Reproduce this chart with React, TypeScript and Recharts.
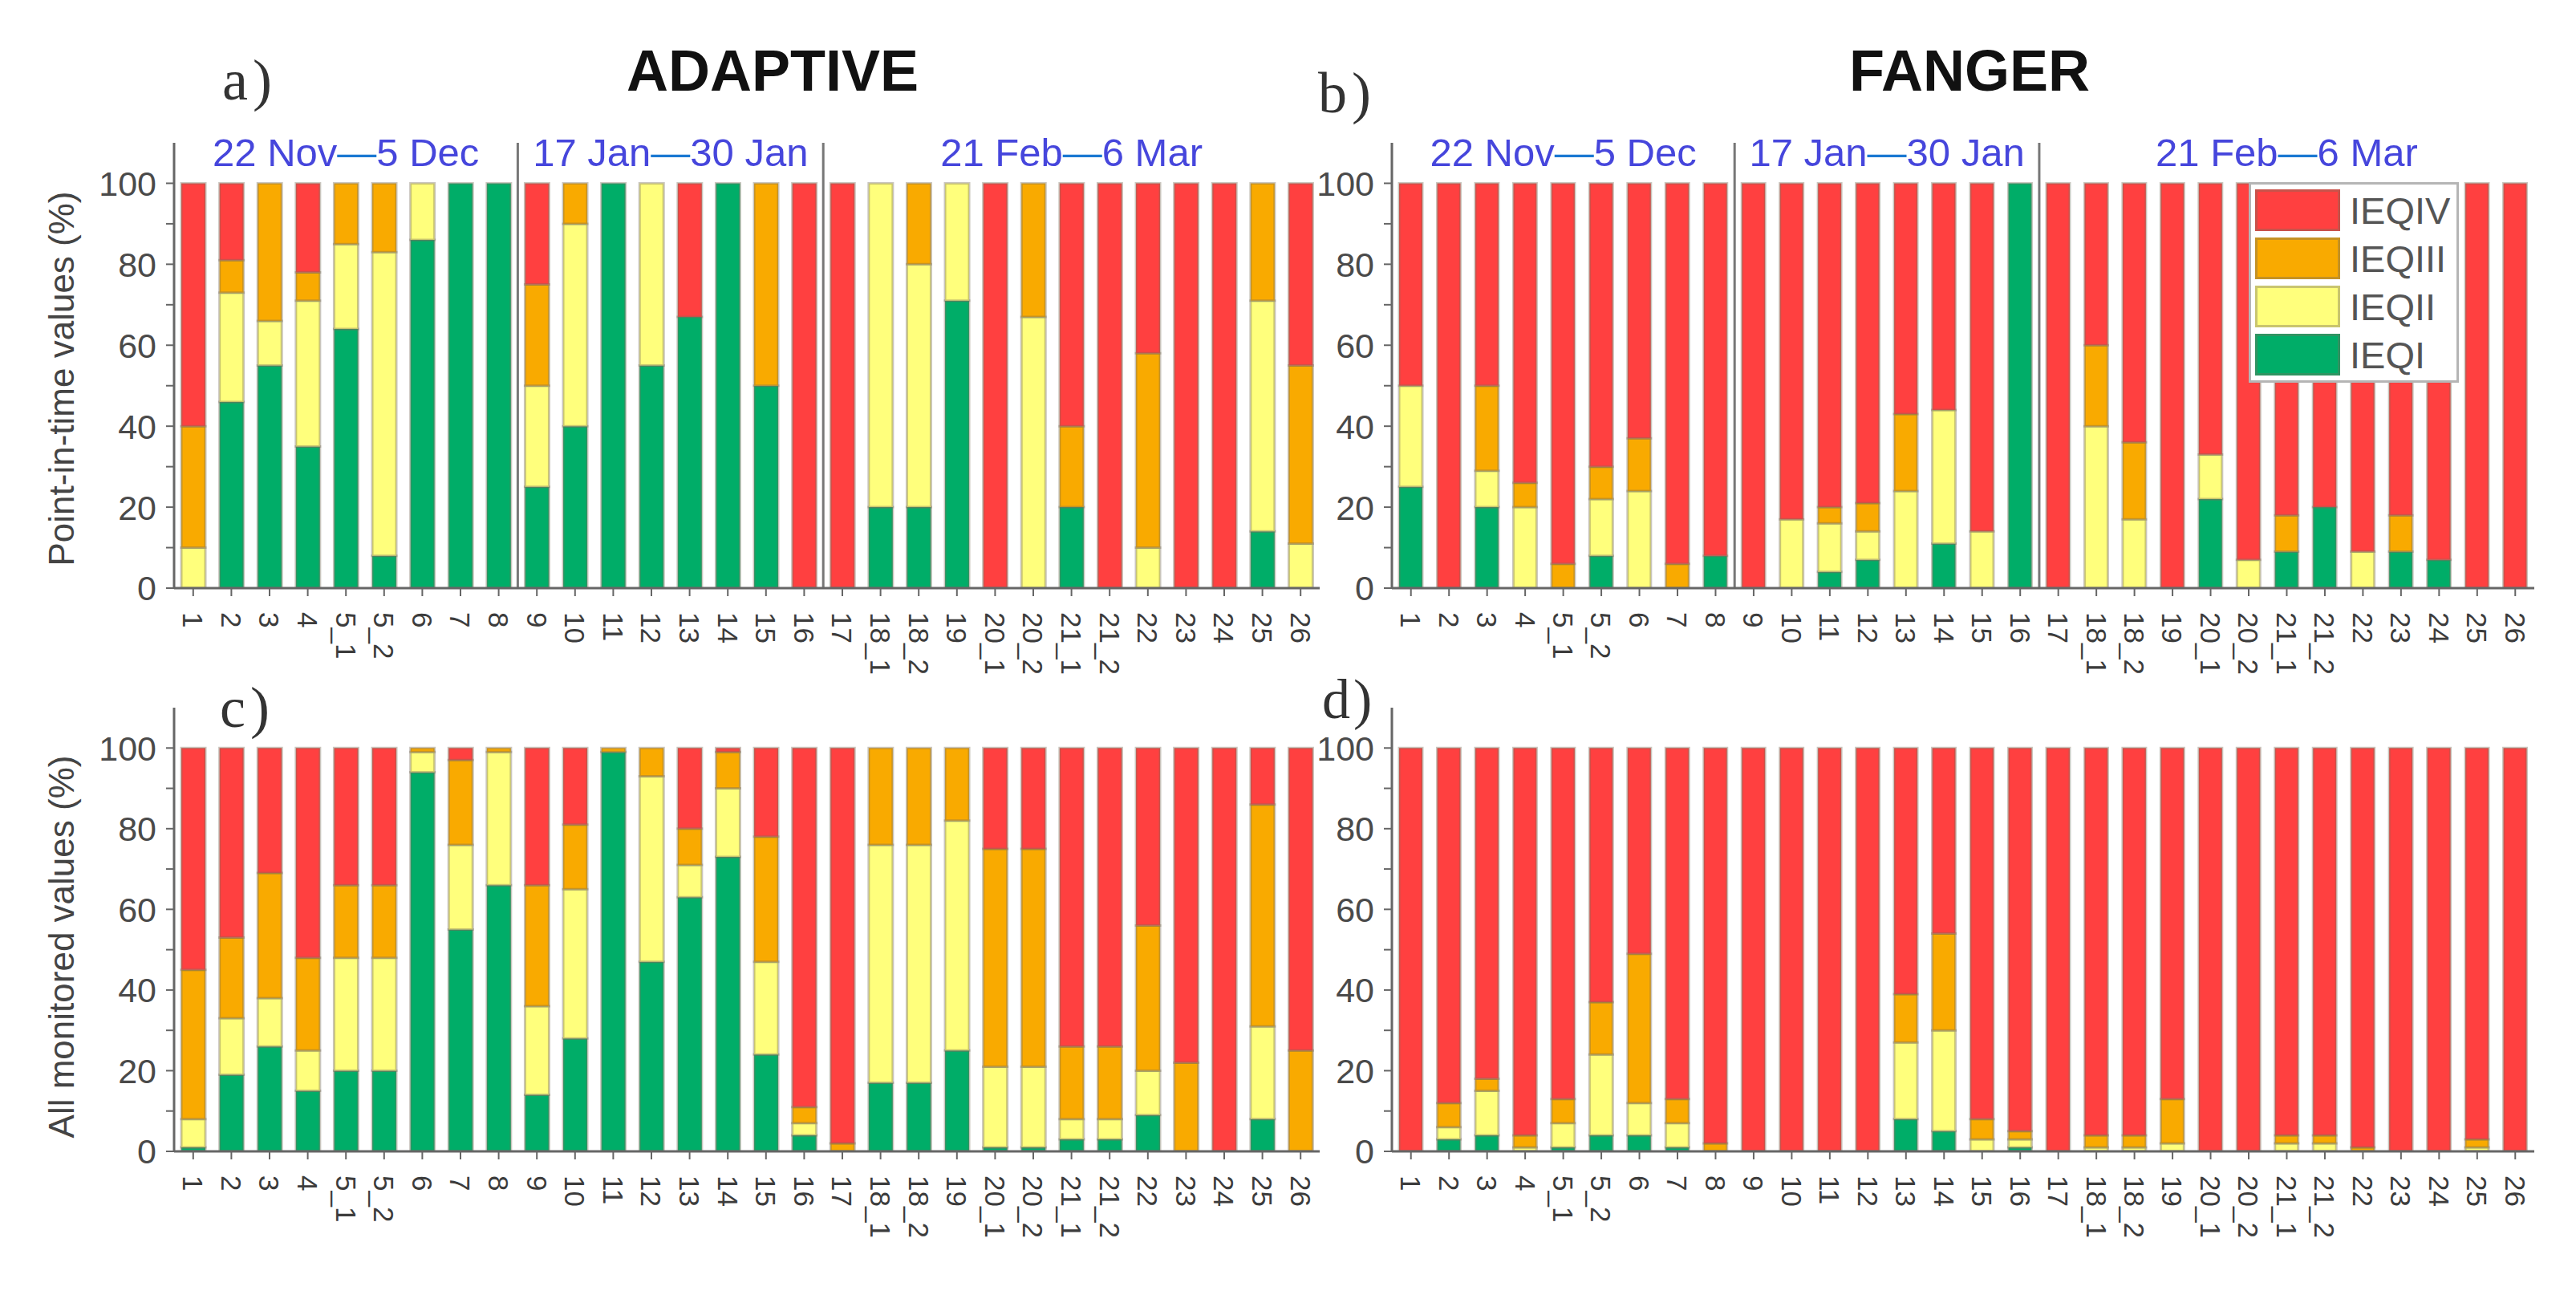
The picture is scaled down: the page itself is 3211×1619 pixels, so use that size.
import React from 'react';
import { BarChart, Bar, XAxis, YAxis, ReferenceLine, ReferenceArea } from 'recharts';

const rooms = ['1', '2', '3', '4', '5_1', '5_2', '6', '7', '8', '9', '10', '11', '12', '13', '14', '15', '16', '17', '18_1', '18_2', '19', '20_1', '20_2', '21_1', '21_2', '22', '23', '24', '25', '26'];

// a) ADAPTIVE - point-in-time values (%)
const adaptPointI = [0, 46, 55, 35, 64, 8, 86, 100, 100, 25, 40, 100, 55, 67, 100, 50, 0, 0, 20, 20, 71, 0, 0, 20, 0, 0, 0, 0, 14, 0];
const adaptPointII = [10, 27, 11, 36, 21, 75, 14, 0, 0, 25, 50, 0, 45, 0, 0, 0, 0, 0, 80, 60, 29, 0, 67, 0, 0, 10, 0, 0, 57, 11];
const adaptPointIII = [30, 8, 34, 7, 15, 17, 0, 0, 0, 25, 10, 0, 0, 0, 0, 50, 0, 0, 0, 20, 0, 0, 33, 20, 0, 48, 0, 0, 29, 44];
const adaptPointIV = [60, 19, 0, 22, 0, 0, 0, 0, 0, 25, 0, 0, 0, 33, 0, 0, 100, 100, 0, 0, 0, 100, 0, 60, 100, 42, 100, 100, 0, 45];

// b) FANGER - point-in-time values (%)
const fangerPointI = [25, 0, 20, 0, 0, 8, 0, 0, 8, 0, 0, 4, 7, 0, 11, 0, 100, 0, 0, 0, 0, 22, 0, 9, 20, 0, 9, 7, 0, 0];
const fangerPointII = [25, 0, 9, 20, 0, 14, 24, 0, 0, 0, 17, 12, 7, 24, 33, 14, 0, 0, 40, 17, 0, 11, 7, 0, 0, 9, 0, 0, 0, 0];
const fangerPointIII = [0, 0, 21, 6, 6, 8, 13, 6, 0, 0, 0, 4, 7, 19, 0, 0, 0, 0, 20, 19, 0, 0, 0, 9, 0, 0, 9, 0, 0, 0];
const fangerPointIV = [50, 100, 50, 74, 94, 70, 63, 94, 92, 100, 83, 80, 79, 57, 56, 86, 0, 100, 40, 64, 100, 67, 93, 82, 80, 91, 82, 93, 100, 100];

// c) ADAPTIVE - all monitored values (%)
const adaptAllI = [1, 19, 26, 15, 20, 20, 94, 55, 66, 14, 28, 99, 47, 63, 73, 24, 4, 0, 17, 17, 25, 1, 1, 3, 3, 9, 0, 0, 8, 0];
const adaptAllII = [7, 14, 12, 10, 28, 28, 5, 21, 33, 22, 37, 0, 46, 8, 17, 23, 3, 0, 59, 59, 57, 20, 20, 5, 5, 11, 0, 0, 23, 0];
const adaptAllIII = [37, 20, 31, 23, 18, 18, 1, 21, 1, 30, 16, 1, 7, 9, 9, 31, 4, 2, 24, 24, 18, 54, 54, 18, 18, 36, 22, 0, 55, 25];
const adaptAllIV = [55, 47, 31, 52, 34, 34, 0, 3, 0, 34, 19, 0, 0, 20, 1, 22, 89, 98, 0, 0, 0, 25, 25, 74, 74, 44, 78, 100, 14, 75];

// d) FANGER - all monitored values (%)
const fangerAllI = [0, 3, 4, 0, 1, 4, 4, 1, 0, 0, 0, 0, 0, 8, 5, 0, 1, 0, 0, 0, 0, 0, 0, 0, 0, 0, 0, 0, 0, 0];
const fangerAllII = [0, 3, 11, 1, 6, 20, 8, 6, 0, 0, 0, 0, 0, 19, 25, 3, 2, 0, 1, 1, 2, 0, 0, 2, 2, 0, 0, 0, 1, 0];
const fangerAllIII = [0, 6, 3, 3, 6, 13, 37, 6, 2, 0, 0, 0, 0, 12, 24, 5, 2, 0, 3, 3, 11, 0, 0, 2, 2, 1, 0, 0, 2, 0];
const fangerAllIV = [100, 88, 82, 96, 87, 63, 51, 87, 98, 100, 100, 100, 100, 61, 46, 92, 95, 100, 96, 96, 87, 100, 100, 96, 96, 99, 100, 100, 97, 100];

const periods = [
  { from: '1', to: '8', start: '22 Nov', end: '5 Dec' },
  { from: '9', to: '16', start: '17 Jan', end: '30 Jan' },
  { from: '17', to: '26', start: '21 Feb', end: '6 Mar' },
];
const periodBreaks = ['8', '16'];
const yTicks = [0, 10, 20, 30, 40, 50, 60, 70, 80, 90, 100];

const classes = [
  { key: 'IV', name: 'IEQIV', color: '#ff4040' },
  { key: 'III', name: 'IEQIII', color: '#f9aa00' },
  { key: 'II', name: 'IEQII', color: '#ffff7c' },
  { key: 'I', name: 'IEQI', color: '#00ad68' },
];

const SANS = '"Liberation Sans", Arial, sans-serif';
const SERIF = '"Liberation Serif", "Times New Roman", serif';
const AXIS = '#666';

const toRows = (i1: number[], i2: number[], i3: number[], i4: number[]) =>
  rooms.map((room, k) => ({ room, I: i1[k], II: i2[k], III: i3[k], IV: i4[k] }));

const RoomTick = (props: any) => {
  const { x, y, payload } = props;
  return (
    <g transform={`translate(${x},${y})`}>
      <text transform="rotate(90)" x={0} y={0} dy="0.36em" textAnchor="start" fontSize={35} fontFamily={SANS} fill="#3c3c3c">
        {payload.value}
      </text>
    </g>
  );
};

const PctTick = (props: any) => {
  const { x, y, payload } = props;
  if (payload.value % 20 !== 0) return null;
  return (
    <text x={x} y={y} dy="0.36em" textAnchor="end" fontSize={43} fontFamily={SANS} fill="#4a4a4a">
      {payload.value}
    </text>
  );
};

const PeriodLabel = (props: any) => {
  const { viewBox, period } = props;
  if (!viewBox) return null;
  const cx = viewBox.x + viewBox.width / 2;
  const cy = viewBox.y + viewBox.height / 2;
  return (
    <text x={cx} y={cy} dy="0.36em" textAnchor="middle" fontSize={49} fontFamily={SANS} fill="#4646dc">
      {period.start}
      <tspan fill="#1a78d2">—</tspan>
      {period.end}
    </text>
  );
};

type PanelProps = {
  rows: any[];
  left: number;
  top: number;
  width: number;
  height: number;
  axisWidth: number;
  padRight: number;
  padTop: number;
  showPeriods?: boolean;
};

const Panel = ({ rows, left, top, width, height, axisWidth, padRight, padTop, showPeriods }: PanelProps) => (
  <div style={{ position: 'absolute', left, top }}>
    <BarChart
      width={width}
      height={height}
      data={rows}
      margin={{ top: padTop, right: padRight, left: 0, bottom: 0 }}
      barCategoryGap="19%"
    >
      <XAxis
        dataKey="room"
        interval={0}
        height={130}
        tick={<RoomTick />}
        tickSize={10}
        tickMargin={20}
        tickLine={{ stroke: AXIS, strokeWidth: 2 }}
        axisLine={{ stroke: AXIS, strokeWidth: 3 }}
      />
      <YAxis
        domain={[0, 110]}
        ticks={yTicks}
        width={axisWidth}
        tick={<PctTick />}
        tickSize={10}
        tickMargin={12}
        tickLine={{ stroke: AXIS, strokeWidth: 2 }}
        axisLine={{ stroke: AXIS, strokeWidth: 3 }}
        allowDataOverflow
      />
      {[...classes].reverse().map((c) => (
        <Bar
          key={c.key}
          dataKey={c.key}
          stackId="ieq"
          fill={c.color}
          stroke="rgba(120,110,90,0.4)"
          strokeWidth={3}
          isAnimationActive={false}
        />
      ))}
      {showPeriods &&
        periodBreaks.map((b) => (
          <ReferenceLine key={b} x={b} position="end" stroke="#777" strokeWidth={3} />
        ))}
      {showPeriods &&
        periods.map((p) => (
          <ReferenceArea
            key={p.from}
            x1={p.from}
            x2={p.to}
            y1={105.5}
            y2={110}
            fill="none"
            stroke="none"
            label={(lp: any) => <PeriodLabel viewBox={lp.viewBox} period={p} />}
          />
        ))}
    </BarChart>
  </div>
);

const Legend = () => (
  <div
    style={{
      position: 'absolute',
      left: 2803,
      top: 227,
      width: 262,
      height: 250,
      background: '#fff',
      border: '3px solid #b5b5b5',
      display: 'flex',
      flexDirection: 'column',
      justifyContent: 'space-around',
      padding: '2px 0',
      boxSizing: 'border-box',
    }}
  >
    {classes.map((c) => (
      <div key={c.key} style={{ display: 'flex', alignItems: 'center' }}>
        <div
          style={{
            width: 106,
            height: 52,
            marginLeft: 5,
            background: c.color,
            boxShadow: 'inset 0 0 0 3px rgba(120,110,90,0.4)',
          }}
        />
        <span style={{ marginLeft: 12, fontSize: 47, fontFamily: SANS, color: '#555' }}>{c.name}</span>
      </div>
    ))}
  </div>
);

const txt = (style: React.CSSProperties, content: string) => (
  <div style={{ position: 'absolute', whiteSpace: 'nowrap', lineHeight: 1, ...style }}>{content}</div>
);

export default function App() {
  return (
    <div style={{ position: 'relative', width: 3211, height: 1619, background: '#fff', overflow: 'hidden' }}>
      <style>{'body{margin:0}'}</style>
      <Panel rows={toRows(adaptPointI, adaptPointII, adaptPointIII, adaptPointIV)} left={0} top={0} width={1700} height={863} axisWidth={217} padRight={55} padTop={178} showPeriods />
      <Panel rows={toRows(fangerPointI, fangerPointII, fangerPointIII, fangerPointIV)} left={1600} top={0} width={1611} height={863} axisWidth={135} padRight={52} padTop={178} showPeriods />
      <Panel rows={toRows(adaptAllI, adaptAllII, adaptAllIII, adaptAllIV)} left={0} top={700} width={1700} height={865} axisWidth={217} padRight={55} padTop={182} />
      <Panel rows={toRows(fangerAllI, fangerAllII, fangerAllIII, fangerAllIV)} left={1600} top={700} width={1611} height={865} axisWidth={135} padRight={52} padTop={182} />
      <Legend />

      {txt({ left: 963, top: 88, transform: 'translate(-50%,-50%)', fontSize: 72, fontWeight: 700, fontFamily: SANS, color: '#111' }, 'ADAPTIVE')}
      {txt({ left: 2455, top: 88, transform: 'translate(-50%,-50%)', fontSize: 72, fontWeight: 700, fontFamily: SANS, color: '#111' }, 'FANGER')}

      {txt({ left: 277, top: 100, transform: 'translateY(-50%)', fontSize: 72, fontFamily: SERIF, color: '#333', letterSpacing: 6 }, 'a)')}
      {txt({ left: 1643, top: 116, transform: 'translateY(-50%)', fontSize: 72, fontFamily: SERIF, color: '#333', letterSpacing: 6 }, 'b)')}
      {txt({ left: 274, top: 882, transform: 'translateY(-50%)', fontSize: 72, fontFamily: SERIF, color: '#333', letterSpacing: 6 }, 'c)')}
      {txt({ left: 1648, top: 872, transform: 'translateY(-50%)', fontSize: 70, fontFamily: SERIF, color: '#333', letterSpacing: 4 }, 'd)')}

      {txt({ left: 77, top: 472, transform: 'translate(-50%,-50%) rotate(-90deg)', fontSize: 44, fontFamily: SANS, color: '#444' }, 'Point-in-time values (%)')}
      {txt({ left: 77, top: 1180, transform: 'translate(-50%,-50%) rotate(-90deg)', fontSize: 44, fontFamily: SANS, color: '#444' }, 'All monitored values (%)')}
    </div>
  );
}
